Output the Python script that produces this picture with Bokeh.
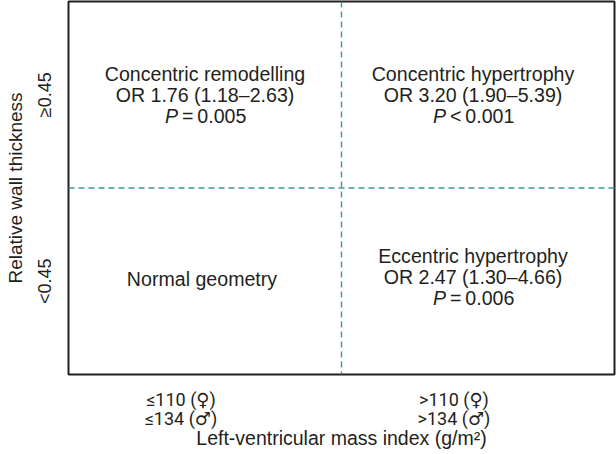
from bokeh.plotting import figure
from bokeh.models import Range1d, FixedTicker, Span, ColumnDataSource, LinearAxis
from bokeh.core.properties import value
from bokeh.embed import file_html
from bokeh.resources import INLINE

# ---------------- data ----------------
lvmi_female = ["≤110 (♀)", ">110 (♀)"]
lvmi_male = ["≤134 (♂)", ">134 (♂)"]
rwt_labels = ["<0.45", "≥0.45"]
x_title = "Left-ventricular mass index (g/m²)"
y_title = "Relative wall thickness"

geometry = ["Concentric remodelling", "Concentric hypertrophy",
            "Eccentric hypertrophy", "Normal geometry"]
geom_lvmi = [0, 1, 1, 0]      # column (LVMI group index)
geom_rwt = [1, 1, 0, 0]       # row (RWT group index)
odds_ratio = [1.76, 3.20, 2.47]
ci_lower = [1.18, 1.90, 1.30]
ci_upper = [2.63, 5.39, 4.66]
p_relation = ["=", "<", "="]
p_value = ["0.005", "0.001", "0.006"]

# ---------------- styling ----------------
FONT = "Liberation Sans"
SYMFONT = "Roboto, DejaVu Sans"
TXT = "#231f20"
TEAL = "#3a98a6"
COL_SHIFT = {0: 0, 1: -5}     # screen px nudge of text blocks per column
ROW_SHIFT = {0: -4, 1: 0}     # screen px nudge of text blocks per row

p = figure(width=616, height=454, x_range=Range1d(0, 2), y_range=Range1d(0, 2),
           output_backend="svg", toolbar_location=None,
           min_border_left=68, min_border_right=2, min_border_top=1, min_border_bottom=80)
p.xgrid.visible = False
p.ygrid.visible = False
p.outline_line_color = TXT
p.outline_line_width = 2
p.outline_line_alpha = 1
p.background_fill_color = "white"
p.border_fill_color = "white"

# x axes: two stacked axes carry the two lines of each LVMI group label
# (the labels sit left of the quadrant centres in the original)
x_ticks = [i + 0.5 - 0.088 for i in range(len(lvmi_female))]
xa1 = p.xaxis[0]
xa2 = LinearAxis()
p.add_layout(xa2, "below")
xa1.ticker = FixedTicker(ticks=x_ticks)
xa2.ticker = FixedTicker(ticks=x_ticks)
xa1.major_label_overrides = {t: lab for t, lab in zip(x_ticks, lvmi_female)}
xa2.major_label_overrides = {t: lab for t, lab in zip(x_ticks, lvmi_male)}
xa2.axis_label = x_title

ya = p.yaxis[0]
y_ticks = [i + 0.5 for i in range(len(rwt_labels))]
ya.ticker = FixedTicker(ticks=y_ticks)
ya.major_label_overrides = {t: lab for t, lab in zip(y_ticks, rwt_labels)}
ya.major_label_orientation = "vertical"
ya.axis_label = y_title

for ax in (xa1, xa2, ya):
    ax.axis_line_color = None
    ax.major_tick_line_color = None
    ax.minor_tick_line_color = None
    ax.major_tick_out = 0
    ax.major_tick_in = 0
    ax.major_label_text_font = FONT
    ax.major_label_text_font_size = "18px"
    ax.major_label_text_color = TXT
    ax.axis_label_text_font = FONT
    ax.axis_label_text_font_size = "19.5px"
    ax.axis_label_text_font_style = "normal"
    ax.axis_label_text_color = TXT
for ax in (xa1, xa2):
    ax.major_label_text_font = SYMFONT
ya.axis_label_text_font_size = "19px"

xa1.major_label_standoff = 14
xa2.major_label_standoff = -5
xa2.axis_label_standoff = -5
ya.major_label_standoff = 14
ya.axis_label_standoff = 6

# dividing lines
p.add_layout(Span(location=1, dimension="height", line_color=TEAL,
                  line_dash="6 4", line_width=1.4))
p.add_layout(Span(location=1, dimension="width", line_color=TEAL,
                  line_dash="6 4", line_width=1.4))

# quadrant texts
gx = [c + 0.5 for c in geom_lvmi]
gy = [r + 0.5 for r in geom_rwt]
dx = [COL_SHIFT[c] for c in geom_lvmi]
dy = [ROW_SHIFT[r] for r in geom_rwt]
n = len(odds_ratio)
or_text = [f"OR {o:.2f} ({lo:.2f}–{hi:.2f})" for o, lo, hi in zip(odds_ratio, ci_lower, ci_upper)]
p_rest = [f"\u2009{rel}\u2009{v}" for rel, v in zip(p_relation, p_value)]

common = dict(text_font=value(FONT), text_font_size="19.6px", text_color=TXT,
              text_baseline="middle")


def line_src(texts, line_dy, extra_dx=0, idx=slice(0, n)):
    xs, ys = gx[idx], gy[idx]
    ddx = [d + extra_dx for d in dx[idx]]
    ddy = [d + line_dy for d in dy[idx]]
    return ColumnDataSource(dict(x=xs, y=ys, t=texts, dx=ddx, dy=ddy))


p.text(x="x", y="y", text="t", source=line_src(geometry[:n], -21),
       text_align="center", x_offset="dx", y_offset="dy", **common)
p.text(x="x", y="y", text="t", source=line_src(or_text, 0),
       text_align="center", x_offset="dx", y_offset="dy", **common)
p.text(x="x", y="y", text="t", source=line_src(["P"] * n, 21, -27),
       text_align="right", x_offset="dx", y_offset="dy", text_font_style="italic", **common)
p.text(x="x", y="y", text="t", source=line_src(p_rest, 21, -27),
       text_align="left", x_offset="dx", y_offset="dy", **common)
src_norm = ColumnDataSource(dict(x=gx[n:], y=gy[n:], t=geometry[n:]))
p.text(x="x", y="y", text="t", source=src_norm, text_align="center",
       x_offset=-3, y_offset=-2, **common)

open("out.html", "w").write(file_html(p, INLINE))
